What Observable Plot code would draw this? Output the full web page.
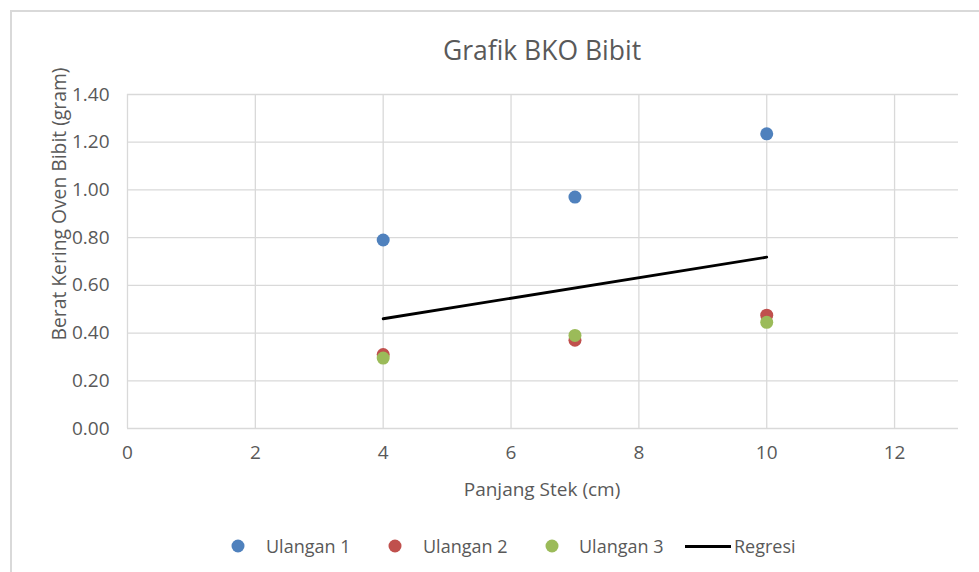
<!DOCTYPE html>
<html>
<head>
<meta charset="utf-8">
<script src="https://cdn.jsdelivr.net/npm/d3@7"></script>
<script src="https://cdn.jsdelivr.net/npm/@observablehq/plot@0.6"></script>
<style>
  html, body { margin: 0; padding: 0; background: #fff; }
  #wrap { position: relative; width: 979px; height: 572px; overflow: hidden; font-family: "Open Sans", sans-serif; color: #595959; }
  #frame { position: absolute; left: 10px; top: 10px; width: 1100px; height: 700px; border: 2px solid #d9d9d9; box-sizing: border-box; }
  #chart { position: absolute; left: 0; top: 0; }
  .title { position: absolute; left: 542px; top: 50px; transform: translate(-50%, -50%); font-size: 26.5px; white-space: nowrap; }
  .xlabel { position: absolute; left: 542px; top: 489px; transform: translate(-50%, -50%); font-size: 19px; white-space: nowrap; }
  .ylabel { position: absolute; left: 58px; top: 204px; transform: translate(-50%, -50%) rotate(-90deg); font-size: 19.3px; white-space: nowrap; }
  .leg { position: absolute; top: 546px; transform: translateY(-50%); font-size: 18px; white-space: nowrap; }
  .dot { position: absolute; top: 546px; width: 13px; height: 13px; border-radius: 50%; transform: translate(-50%, -50%); }
  .lline { position: absolute; top: 545px; height: 3px; background: #000; }
</style>
</head>
<body>
<div id="wrap">
  <div id="frame"></div>
  <div id="chart"></div>
  <div class="title">Grafik BKO Bibit</div>
  <div class="xlabel">Panjang Stek (cm)</div>
  <div class="ylabel">Berat Kering Oven Bibit (gram)</div>
  <div id="legend"></div>
</div>
<script>
// Data
const xValues = [4, 7, 10];
const ulangan1 = [0.79, 0.97, 1.235];
const ulangan2 = [0.31, 0.37, 0.475];
const ulangan3 = [0.295, 0.39, 0.445];
const regresiX = [4, 10];
const regresiY = [0.46, 0.718];
const seriesNames = ["Ulangan 1", "Ulangan 2", "Ulangan 3", "Regresi"];
const seriesColors = ["#4F81BD", "#C0504D", "#9BBB59", "#000000"];
const xTicks = [0, 2, 4, 6, 8, 10, 12];
const yTicks = [0, 0.2, 0.4, 0.6, 0.8, 1.0, 1.2, 1.4];

const points = [];
[ulangan1, ulangan2, ulangan3].forEach((vals, s) => {
  vals.forEach((v, i) => points.push({ x: xValues[i], y: v, series: seriesNames[s] }));
});
const regresi = regresiX.map((x, i) => ({ x, y: regresiY[i] }));

const plot = Plot.plot({
  width: 979,
  height: 572,
  marginLeft: 127,
  marginRight: 21,
  marginTop: 94,
  marginBottom: 144,
  style: { fontFamily: "'Open Sans', sans-serif", fontSize: "19px", color: "#595959", background: "transparent", overflow: "visible" },
  x: { domain: [0, 13] },
  y: { domain: [0, 1.4] },
  color: { domain: seriesNames, range: seriesColors },
  marks: [
    Plot.gridX(xTicks, { stroke: "#d9d9d9", strokeOpacity: 1, strokeWidth: 1.3 }),
    Plot.gridY(yTicks, { stroke: "#d9d9d9", strokeOpacity: 1, strokeWidth: 1.3 }),
    Plot.axisX({ ticks: xTicks, tickSize: 0, tickPadding: 17, label: null, tickFormat: d => String(d), fill: "#595959" }),
    Plot.axisY({ ticks: yTicks, tickSize: 0, tickPadding: 18, label: null, tickFormat: d => d.toFixed(2), fill: "#595959" }),
    Plot.dot(points, { x: "x", y: "y", fill: "series", r: 6.5, stroke: null }),
    Plot.line(regresi, { x: "x", y: "y", stroke: "#000", strokeWidth: 2.8 })
  ]
});
document.getElementById("chart").appendChild(plot);

// Legend
const legend = document.getElementById("legend");
const dotX = [238, 395, 552];
const textX = [266, 423, 579];
for (let i = 0; i < 3; i++) {
  const d = document.createElement("div");
  d.className = "dot";
  d.style.left = dotX[i] + "px";
  d.style.background = seriesColors[i];
  legend.appendChild(d);
  const t = document.createElement("div");
  t.className = "leg";
  t.style.left = textX[i] + "px";
  t.textContent = seriesNames[i];
  legend.appendChild(t);
}
const ln = document.createElement("div");
ln.className = "lline";
ln.style.left = "685px";
ln.style.width = "46px";
legend.appendChild(ln);
const rt = document.createElement("div");
rt.className = "leg";
rt.style.left = "734px";
rt.textContent = seriesNames[3];
legend.appendChild(rt);
</script>
</body>
</html>
